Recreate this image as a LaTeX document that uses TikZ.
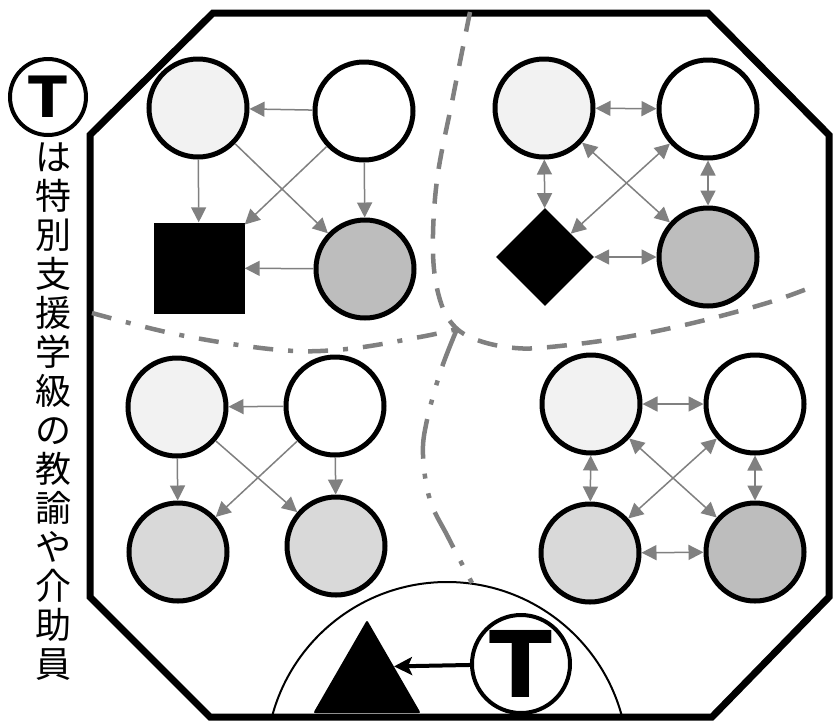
\documentclass[tikz,border=0pt]{standalone}
\usepackage{fontspec}
\usepackage{tikz}
\usetikzlibrary{arrows.meta,positioning,shapes.geometric}
\newfontfamily\cjk{Noto Sans CJK JP}
\newfontfamily\tfont{DejaVu Sans}
\definecolor{ink}{HTML}{000000}
\definecolor{wire}{HTML}{808080}
\definecolor{tone0}{HTML}{FFFFFF}
\definecolor{tone1}{HTML}{F2F2F2}
\definecolor{tone2}{HTML}{D9D9D9}
\definecolor{tone3}{HTML}{BDBDBD}
\tikzset{
  member/.style={circle,draw=ink,line width=5pt,minimum size=98pt,inner sep=0pt},
  blockbox/.style={rectangle,fill=ink,minimum size=91pt,inner sep=0pt},
  gem/.style={diamond,fill=ink,minimum size=98pt,inner sep=0pt},
  cone/.style={regular polygon,regular polygon sides=3,fill=ink,minimum size=124pt,inner sep=0pt,rounded corners=2pt},
  staff/.style={circle,draw=ink,line width=4pt,inner sep=0pt},
  oneway/.style={-{Triangle[length=15pt,width=15pt]},line width=1.5pt,draw=wire},
  twoway/.style={{Triangle[length=15pt,width=15pt]}-{Triangle[length=15pt,width=15pt]},line width=1.5pt,draw=wire},
  guide/.style={-{Stealth[length=18pt,width=18pt,inset=4pt]},line width=4pt,draw=ink},
  wall/.style={draw=ink,line width=7pt,line join=miter},
  zone/.style={draw=ink,line width=2pt},
  dashdiv/.style={draw=wire,line width=4.5pt,dash pattern=on 20pt off 15pt},
  dotdiv/.style={draw=wire,line width=4.5pt,dash pattern=on 20pt off 15pt on 5pt off 15pt},
  ddotdiv/.style={draw=wire,line width=4.5pt,dash pattern=on 40pt off 15pt on 5pt off 15pt on 5pt off 15pt}
}
\begin{document}
\begin{tikzpicture}[x=1pt,y=-1pt]
  \useasboundingbox[fill=white] (0,0) rectangle (835,721);
  % classroom outline and the zone of the support staff
  \draw[wall] (213,13) -- (708,13) -- (829,135) -- (829,597) -- (712,717) -- (210,717) -- (90,597) -- (90,135) -- cycle;
  \begin{scope}
    \clip (0,0) rectangle (835,717);
    \draw[zone] (447,763) circle[radius=181pt];
  \end{scope}
  % group dividers
  \draw[dashdiv] plot[smooth,tension=0.6] coordinates {(470,12) (453,97) (437,180) (433,253) (440,300) (455,327) (480,341) (515,348) (550,347) (620,338) (693,323) (767,303) (812,287)};
  \draw[dotdiv] plot[smooth,tension=0.6] coordinates {(92,313) (180,335) (280,350) (347,349) (420,337) (457,329)};
  \draw[ddotdiv] plot[smooth,tension=0.6] coordinates {(457,329) (441,370) (427,420) (423,455) (430,500) (448,537) (472,583)};
  % top-left group
  \node[member,fill=tone1] (a1) at (198,108) {};
  \node[member,fill=tone0] (a2) at (364,111) {};
  \node[blockbox] (a3) at (199,268) {};
  \node[member,fill=tone3] (a4) at (365,269) {};
  \draw[oneway] (a2) -- (a1); \draw[oneway] (a1) -- (a3); \draw[oneway] (a2) -- (a4);
  \draw[oneway] (a1) -- (a4); \draw[oneway] (a2) -- (a3); \draw[oneway] (a4) -- (a3);
  % top-right group
  \node[member,fill=tone1] (b1) at (544,108) {};
  \node[member,fill=tone0] (b2) at (708,109) {};
  \node[gem] (b3) at (545,257) {};
  \node[member,fill=tone3] (b4) at (708,257) {};
  \draw[twoway] (b1) -- (b2); \draw[twoway] (b1) -- (b3); \draw[twoway] (b2) -- (b4);
  \draw[twoway] (b3) -- (b4); \draw[twoway] (b1) -- (b4); \draw[twoway] (b2) -- (b3);
  % bottom-left group
  \node[member,fill=tone1] (c1) at (177,407) {};
  \node[member,fill=tone0] (c2) at (335,406) {};
  \node[member,fill=tone2] (c3) at (178,552) {};
  \node[member,fill=tone2] (c4) at (336,546) {};
  \draw[oneway] (c2) -- (c1); \draw[oneway] (c1) -- (c3); \draw[oneway] (c2) -- (c4);
  \draw[oneway] (c1) -- (c4); \draw[oneway] (c2) -- (c3);
  % bottom-right group
  \node[member,fill=tone1] (d1) at (591,404) {};
  \node[member,fill=tone0] (d2) at (755,404) {};
  \node[member,fill=tone2] (d3) at (590,553) {};
  \node[member,fill=tone3] (d4) at (755,552) {};
  \draw[twoway] (d1) -- (d2); \draw[twoway] (d1) -- (d3); \draw[twoway] (d2) -- (d4);
  \draw[twoway] (d3) -- (d4); \draw[twoway] (d1) -- (d4); \draw[twoway] (d2) -- (d3);
  % support staff
  \node[cone] (pupil) at (367,682) {};
  \node[staff,minimum size=98pt] (teacher) at (521,664) {\tfont\bfseries\fontsize{92}{92}\selectfont T};
  \draw[guide] (teacher) -- (pupil.side 3);
  % legend
  \node[staff,minimum size=76pt] (keyT) at (48,97) {\tfont\bfseries\fontsize{57}{57}\selectfont T};
  \node[anchor=north,align=center,inner sep=0pt,font=\cjk\fontsize{36}{39}\selectfont] (caption) at (53,143)
    {は\\特\\別\\支\\援\\学\\級\\の\\教\\諭\\や\\介\\助\\員};
\end{tikzpicture}
\end{document}
